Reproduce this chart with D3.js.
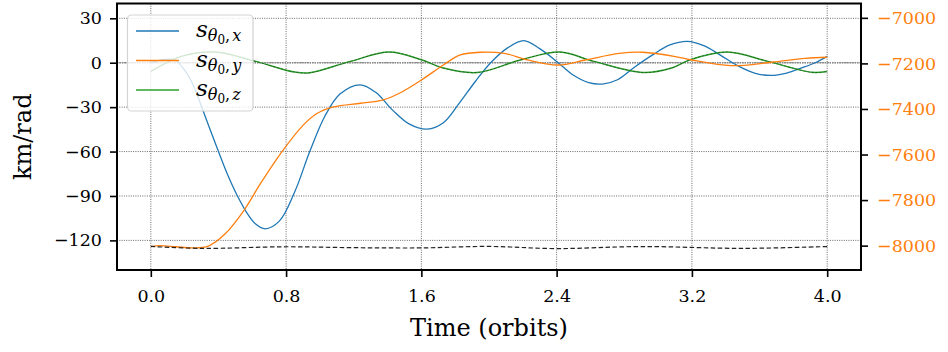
<!DOCTYPE html>
<html><head><meta charset="utf-8">
<script src="https://cdn.jsdelivr.net/npm/d3@7"></script>
<style>body{margin:0;background:#fff}svg{display:block}</style>
</head><body>
<svg id="c" width="948" height="352"></svg>
<script>
// ---- data ----
const xTicks = [0.0, 0.8, 1.6, 2.4, 3.2, 4.0];
const yLeftTicks = [30, 0, -30, -60, -90, -120];
const yRightTicks = [-7000, -7200, -7400, -7600, -7800, -8000];

// s_theta0,x (left axis, km/rad)
const blueT = [0.00,0.08,0.14,0.20,0.25,0.30,0.35,0.40,0.45,0.508,0.577,0.62,0.676,0.76,0.85,0.94,1.03,1.12,1.238,1.33,1.43,1.53,1.634,1.73,1.82,1.92,2.01,2.11,2.206,2.30,2.40,2.50,2.59,2.671,2.76,2.86,2.97,3.07,3.174,3.27,3.37,3.47,3.57,3.668,3.76,3.85,3.93,4.0];
const blueV = [0.0,2.2,2.0,-5,-15,-29.6,-45,-60,-74.5,-89,-103,-109,-112.2,-107,-87.5,-60,-36,-21,-14.9,-20,-32,-41.5,-44.9,-40.5,-28,-12.5,0,10,14.9,9.5,0.9,-8.5,-13.5,-14.4,-11.5,-3,5.5,12,14.4,11.5,5,-2,-7,-8.6,-7,-3.5,0,4.3];

// s_theta0,y (right axis)
const orangeT = [0.00,0.055,0.15,0.25,0.34,0.44,0.55,0.65,0.78,0.90,0.98,1.08,1.24,1.37,1.47,1.60,1.73,1.83,1.95,2.09,2.23,2.41,2.57,2.77,2.91,3.11,3.20,3.43,3.67,3.87,4.0];
const orangeV = [-8004,-8000,-8005,-8010,-8002,-7948,-7846,-7726,-7583,-7472,-7421,-7391,-7375,-7361,-7331,-7273,-7207,-7163,-7151,-7156,-7185,-7207,-7185,-7156,-7151,-7171,-7185,-7210,-7195,-7178,-7173];

// s_theta0,z (left axis)
const greenT = [0.00,0.18,0.38,0.62,0.85,0.94,1.18,1.41,1.60,1.73,1.93,2.19,2.42,2.62,2.91,3.08,3.19,3.41,3.65,3.91,4.0];
const greenV = [-5.9,4.3,7.2,0.9,-6.3,-6.8,0.9,7.2,2.0,-3.6,-6.6,2.0,7.2,0.9,-6.6,-3.6,2.0,7.2,0.9,-6.5,-5.9];

// dashed reference (right axis)
const dashT = [0.0,0.3,0.8,1.2,1.6,2.0,2.4,2.9,3.5,4.0];
const dashV = [-8003.5,-8012,-8005,-8009,-8010,-8003.5,-8013,-8004,-8012,-8004];

// ---- layout ----
const svg = d3.select('#c');
const L = 117, R = 861, T = 3.5, B = 270;
const x = d3.scaleLinear().domain([-0.2, 4.2]).range([L, R]);
const yL = d3.scaleLinear().domain([-140, 40]).range([B, T]);
const yR = d3.scaleLinear().domain([-8107, -6937]).range([B, T]);
const FONT = "'DejaVu Serif', serif";
const C = {blue:'#1f77b4', orange:'#ff7f0e', green:'#2ca02c'};

svg.append('defs').append('clipPath').attr('id','clip')
  .append('rect').attr('x',L).attr('y',T).attr('width',R-L).attr('height',B-T);

// grid
const grid = svg.append('g').attr('clip-path','url(#clip)');
grid.selectAll('.vg').data(xTicks).enter().append('line')
  .attr('x1',d=>x(d)).attr('x2',d=>x(d)).attr('y1',T).attr('y2',B)
  .attr('stroke','#444').attr('stroke-width',0.8).attr('stroke-dasharray','1,1.3');
grid.selectAll('.hg').data(yLeftTicks).enter().append('line')
  .attr('x1',L).attr('x2',R).attr('y1',d=>yL(d)).attr('y2',d=>yL(d))
  .attr('stroke','#444').attr('stroke-width',0.8).attr('stroke-dasharray','1,1.3');
grid.append('line').attr('x1',L).attr('x2',R).attr('y1',yL(0)).attr('y2',yL(0))
  .attr('stroke','#888').attr('stroke-width',1.6).attr('stroke-dasharray','1.5,1');

// lines
const mk = (ts, vs) => ts.map((t,i)=>[t, vs[i]]);
const curve = d3.curveCatmullRom.alpha(0.5);
const lineL = d3.line().x(d=>x(d[0])).y(d=>yL(d[1])).curve(curve);
const lineR = d3.line().x(d=>x(d[0])).y(d=>yR(d[1])).curve(curve);
const g = svg.append('g').attr('clip-path','url(#clip)');
g.append('path').attr('d',lineL(mk(blueT,blueV))).attr('fill','none').attr('stroke',C.blue).attr('stroke-width',1.3);
g.append('path').attr('d',lineL(mk(greenT,greenV))).attr('fill','none').attr('stroke',C.green).attr('stroke-width',1.5);
g.append('path').attr('d',lineL(mk(greenT,greenV))).attr('fill','none').attr('stroke','#000').attr('stroke-opacity',0.4)
  .attr('stroke-width',0.8).attr('stroke-dasharray','2.5,1.5');
g.append('path').attr('d',lineR(mk(orangeT,orangeV))).attr('fill','none').attr('stroke',C.orange).attr('stroke-width',1.3);
g.append('path').attr('d',lineR(mk(dashT,dashV))).attr('fill','none').attr('stroke','#222').attr('stroke-width',1.2)
  .attr('stroke-dasharray','4.5,2.5');

// legend
const lg = svg.append('g');
lg.append('rect').attr('x',127.5).attr('y',15).attr('width',125.5).attr('height',96).attr('rx',4)
  .attr('fill','#fff').attr('fill-opacity',0.8).attr('stroke','#d3d3d3').attr('stroke-width',1.2);
const items = [{c:C.blue,s:'x'},{c:C.orange,s:'y'},{c:C.green,s:'z'}];
items.forEach((it,i)=>{
  const yy = 31 + i*29.5;
  lg.append('line').attr('x1',136).attr('x2',179).attr('y1',yy).attr('y2',yy).attr('stroke',it.c).attr('stroke-width',1.4);
  const t = lg.append('text').attr('x',196).attr('y',yy+6).attr('font-family',FONT).attr('fill','#000');
  t.append('tspan').attr('font-style','italic').attr('font-size',23).text('s');
  t.append('tspan').attr('font-style','italic').attr('font-size',16).attr('dy',4).text('θ');
  t.append('tspan').attr('font-size',12).attr('dy',3).text('0');
  t.append('tspan').attr('font-size',16).attr('dy',-3).text(',');
  t.append('tspan').attr('font-style','italic').attr('font-size',16).attr('dx',2).text(it.s);
});

// spines
const sp = svg.append('g').attr('stroke','#000').attr('stroke-width',2);
sp.append('rect').attr('x',L).attr('y',T).attr('width',R-L).attr('height',B-T).attr('fill','none');

// axes
const fmtMinus = s => s.replace('-', '\u2212');
const xAxis = d3.axisBottom(x).tickValues(xTicks).tickFormat(d=>d3.format('.1f')(d)).tickSizeOuter(0).tickSize(7).tickPadding(8);
const ax = svg.append('g').attr('transform',`translate(0,${B})`).call(xAxis);
const yAxisL = d3.axisLeft(yL).tickValues(yLeftTicks).tickFormat(d=>fmtMinus(String(d))).tickSizeOuter(0).tickSize(7).tickPadding(8);
const al = svg.append('g').attr('transform',`translate(${L},0)`).call(yAxisL);
const yAxisR = d3.axisRight(yR).tickValues(yRightTicks).tickFormat(d=>fmtMinus(String(d))).tickSizeOuter(0).tickSize(7).tickPadding(9);
const ar = svg.append('g').attr('transform',`translate(${R},0)`).call(yAxisR);
[ax,al,ar].forEach(a=>{
  a.select('.domain').remove();
  a.selectAll('.tick line').attr('stroke','#000').attr('stroke-width',1.6);
  a.selectAll('.tick text').attr('font-family',FONT).attr('font-size',17.5).attr('fill','#000');
});
ar.selectAll('.tick text').attr('fill',C.orange);
ax.selectAll('.tick text').attr('dy','0.95em');

// axis labels
svg.append('text').attr('x',(L+R)/2).attr('y',336).attr('text-anchor','middle')
  .attr('font-family',FONT).attr('font-size',24).text('Time (orbits)');
svg.append('text').attr('transform',`translate(31,${(T+B)/2}) rotate(-90)`).attr('text-anchor','middle')
  .attr('font-family',FONT).attr('font-size',24).text('km/rad');
</script>
</body></html>
